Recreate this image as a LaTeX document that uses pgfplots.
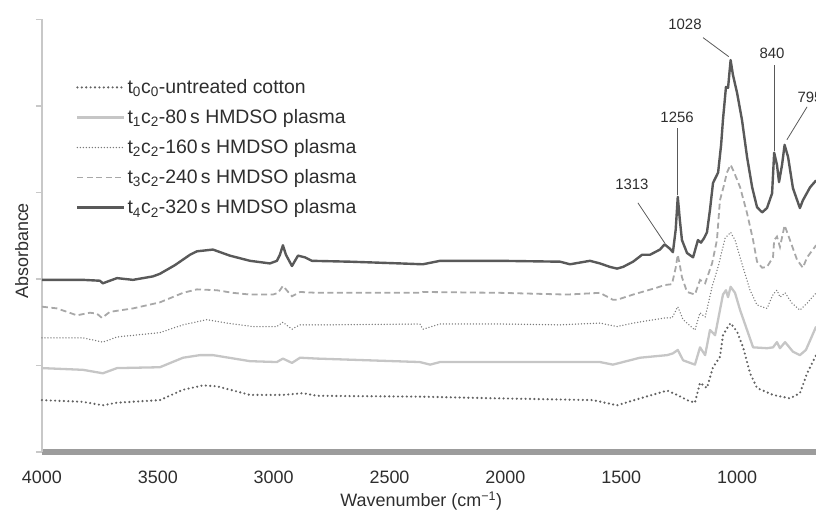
\documentclass[border=0pt]{standalone}
\usepackage{fontspec}
\setmainfont{Liberation Sans}
\usepackage{pgfplots}
\pgfplotsset{compat=1.18}

\definecolor{tfour}{HTML}{595959}
\definecolor{tthree}{HTML}{A8A8A8}
\definecolor{ttwo}{HTML}{7A7A7A}
\definecolor{tone}{HTML}{C6C6C6}
\definecolor{tzero}{HTML}{626262}
\definecolor{axisbar}{HTML}{9C9C9C}
\definecolor{axisthin}{HTML}{C8C8C8}
\definecolor{txt}{HTML}{2E2E2E}

\begin{document}
\begin{tikzpicture}[font=\fontsize{18}{21}\selectfont,
  annot/.style={draw=black!65, line width=0.8bp},
  annotlabel/.style={font=\fontsize{15}{18}\selectfont, text=txt, inner sep=0pt}]
\begin{axis}[
  x=0.2317bp, y=86.5bp,
  x dir=reverse,
  xmin=659, xmax=4000, ymin=0, ymax=5,
  axis x line*=bottom, axis y line*=left,
  x axis line style={-, line width=5.5bp, color=axisbar},
  y axis line style={-, line width=1.2bp, color=axisthin},
  xtick={4000,3500,3000,2500,2000,1500,1000},
  x tick style={draw=none},
  ytick={0,1,2,3,4,5}, yticklabels={},
  y tick style={color=axisthin, line width=1.2bp},
  tick align=outside, major tick length=6bp,
  /pgf/number format/assume math mode=true,
  /pgf/number format/1000 sep={},
  xticklabel style={font=\fontsize{18}{21}\selectfont, text=txt, yshift=-9bp},
  xlabel={Wavenumber (cm\textsuperscript{−1})},
  xlabel style={font=\fontsize{18}{21}\selectfont, text=txt,
    at={(axis description cs:0.49,0)}, anchor=north, yshift=-36bp},
  ylabel={Absorbance},
  ylabel style={font=\fontsize{18}{21}\selectfont, text=txt,
    at={(axis description cs:-0.026,0.465)}, anchor=center},
  clip=false,
  legend cell align=left,
  legend image code/.code={\draw[#1] (0bp,0bp) -- (47bp,0bp);},
  legend style={draw=none, fill=none, at={(axis description cs:0.044,0.866)},
    anchor=north west, font=\fontsize{19.5}{23}\selectfont, text=txt,
    row sep=10.5bp, inner sep=0pt},
]

% t0c0 untreated cotton
\addplot[color=tzero, line width=2.4bp, line cap=round, dash pattern=on 0bp off 4.4bp] table {
4000 0.60
3823 0.58
3737 0.54
3676 0.57
3491 0.60
3391 0.72
3305 0.77
3245 0.76
3102 0.66
2960 0.66
2874 0.68
2813 0.65
2369 0.64
2023 0.62
1622 0.60
1518 0.54
1419 0.62
1302 0.71
1259 0.66
1216 0.60
1182 0.57
1160 0.80
1130 0.74
1104 0.98
1074 1.10
1061 1.35
1039 1.45
1028 1.49
1000 1.39
974 1.21
944 0.91
914 0.74
845 0.66
772 0.62
729 0.68
698 0.91
659 1.12
};
\addlegendentry{t\textsubscript{0}c\textsubscript{0}-untreated cotton}

% t1c2 80 s
\addplot[color=tone, line width=2.3bp, line join=round] table {
4000 0.97
3823 0.95
3737 0.91
3676 0.97
3491 0.98
3391 1.09
3318 1.12
3262 1.12
3102 1.05
2986 1.04
2960 1.08
2921 1.03
2886 1.09
2813 1.08
2369 1.04
2325 1.01
2282 1.04
1592 1.04
1536 1.01
1419 1.09
1302 1.12
1277 1.14
1256 1.18
1233 1.06
1182 1.01
1160 1.21
1138 1.12
1117 1.41
1095 1.35
1074 1.64
1061 1.82
1048 1.87
1039 1.79
1028 1.91
1009 1.84
987 1.64
957 1.41
931 1.21
871 1.20
845 1.21
828 1.27
815 1.20
793 1.27
759 1.16
729 1.12
703 1.18
685 1.29
659 1.45
};
\addlegendentry{t\textsubscript{1}c\textsubscript{2}-80\,s HMDSO plasma}

% t2c2 160 s
\addplot[color=ttwo, line width=1.5bp, line cap=round, dash pattern=on 0bp off 3bp] table {
4000 1.32
3823 1.32
3737 1.27
3676 1.33
3491 1.38
3391 1.47
3288 1.53
3202 1.49
3089 1.45
2986 1.45
2960 1.50
2921 1.42
2886 1.47
2757 1.47
2369 1.48
2356 1.42
2282 1.48
2023 1.48
1764 1.47
1592 1.49
1518 1.45
1449 1.49
1311 1.55
1281 1.55
1256 1.68
1233 1.53
1216 1.49
1182 1.41
1160 1.61
1138 1.56
1108 1.91
1082 2.14
1052 2.47
1028 2.54
1009 2.45
987 2.25
944 1.87
914 1.70
871 1.66
845 1.82
828 1.87
815 1.79
793 1.84
763 1.72
729 1.64
698 1.72
659 1.84
};
\addlegendentry{t\textsubscript{2}c\textsubscript{2}-160\,s HMDSO plasma}

% t3c2 240 s
\addplot[color=tthree, line width=1.8bp, dash pattern=on 6bp off 3.5bp] table {
4000 1.68
3935 1.66
3849 1.58
3793 1.61
3763 1.60
3741 1.55
3707 1.62
3607 1.66
3491 1.73
3391 1.84
3331 1.88
3245 1.87
3176 1.84
3102 1.82
3003 1.82
2981 1.84
2960 1.92
2921 1.80
2886 1.85
2813 1.84
2369 1.84
2356 1.85
2023 1.84
1734 1.82
1592 1.84
1536 1.76
1518 1.76
1449 1.82
1346 1.90
1313 1.93
1281 1.94
1265 2.13
1256 2.28
1247 2.16
1238 2.02
1216 1.85
1182 1.82
1160 1.99
1138 1.95
1108 2.18
1087 2.45
1074 2.91
1056 3.09
1044 3.23
1028 3.32
1014 3.24
987 3.06
957 2.76
931 2.45
914 2.20
892 2.13
871 2.14
845 2.25
840 2.45
828 2.49
815 2.37
795 2.62
772 2.45
741 2.22
716 2.13
698 2.25
659 2.39
};
\addlegendentry{t\textsubscript{3}c\textsubscript{2}-240\,s HMDSO plasma}

% t4c2 320 s
\addplot[color=tfour, line width=2.4bp, line join=round] table {
4000 1.99
3935 1.99
3823 1.99
3750 1.98
3737 1.95
3707 1.98
3676 2.01
3607 1.99
3521 2.03
3491 2.06
3426 2.16
3361 2.28
3331 2.32
3262 2.34
3189 2.27
3102 2.21
3016 2.18
2986 2.21
2973 2.28
2960 2.39
2947 2.28
2921 2.15
2895 2.27
2865 2.25
2835 2.21
2671 2.20
2455 2.18
2356 2.17
2282 2.21
2023 2.21
1764 2.20
1721 2.17
1635 2.21
1592 2.18
1549 2.14
1518 2.12
1492 2.14
1449 2.20
1410 2.28
1376 2.28
1333 2.34
1313 2.40
1290 2.35
1277 2.31
1265 2.57
1256 2.95
1247 2.68
1238 2.45
1216 2.30
1190 2.25
1169 2.45
1156 2.42
1143 2.47
1130 2.54
1117 2.80
1104 3.11
1082 3.23
1069 3.55
1061 3.84
1048 4.22
1039 4.21
1028 4.53
1018 4.36
1000 4.15
979 3.84
957 3.41
935 3.06
914 2.83
892 2.77
871 2.82
849 2.99
840 3.46
828 3.32
819 3.12
806 3.32
795 3.55
780 3.41
759 3.05
729 2.82
716 2.91
685 3.06
659 3.14
};
\addlegendentry{t\textsubscript{4}c\textsubscript{2}-320\,s HMDSO plasma}

% peak assignments
\draw[annot] (axis cs:1036,4.57) -- (axis cs:1147,4.79);
\node[annotlabel] at (axis cs:1225,4.94) {1028};
\draw[annot] (axis cs:840,3.48) -- (axis cs:840,4.47);
\node[annotlabel] at (axis cs:849,4.61) {840};
\draw[annot] (axis cs:1256,2.97) -- (axis cs:1256,3.75);
\node[annotlabel] at (axis cs:1259,3.87) {1256};
\draw[annot] (axis cs:1311,2.41) -- (axis cs:1428,2.88);
\node[annotlabel] at (axis cs:1454,3.09) {1313};
\draw[annot] (axis cs:785,3.61) -- (axis cs:698,3.99);
\node[annotlabel] at (axis cs:685,4.10) {795};

\coordinate (bbSW) at (axis cs:4181,-0.751);
\coordinate (bbNE) at (axis cs:659.5,5.225);
\end{axis}
\pgfresetboundingbox
\useasboundingbox (bbSW) rectangle (bbNE);
\end{tikzpicture}
\end{document}
